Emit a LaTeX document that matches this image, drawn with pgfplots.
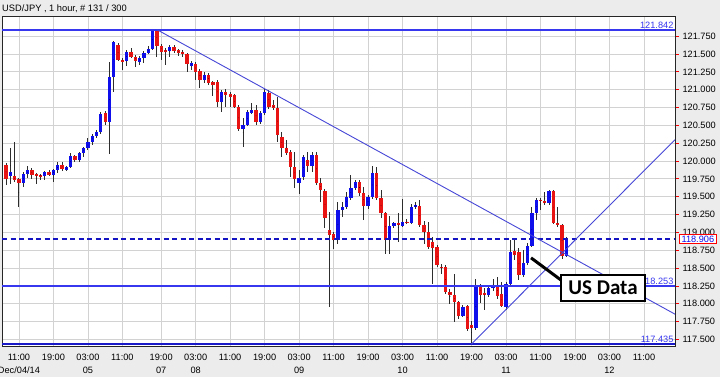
\documentclass[border=0pt]{standalone}
\usepackage{pgfplots}
\usepackage{pgfplotstable}
\pgfplotsset{compat=1.18}
\usepackage{fontspec}
\setmainfont{Liberation Sans}
\newfontfamily\carlito{Carlito}
\definecolor{bgcol}{RGB}{236,236,236}
\definecolor{gridcol}{RGB}{210,210,210}
\definecolor{upcol}{RGB}{15,15,235}
\definecolor{dncol}{RGB}{232,20,20}
\definecolor{wickcol}{RGB}{45,45,45}
\definecolor{hlcol}{RGB}{55,55,240}
\definecolor{lowcol}{RGB}{25,25,200}
\definecolor{dashcol}{RGB}{20,20,195}
\definecolor{trendcol}{RGB}{70,70,215}

\pgfplotstableread{
i o h l c
0 119.95 119.98 119.67 119.75
1 119.79 120.19 119.68 119.85
2 119.79 120.27 119.71 119.73
3 119.75 119.77 119.35 119.69
4 119.69 119.85 119.64 119.82
5 119.82 119.93 119.77 119.87
6 119.87 119.90 119.75 119.81
7 119.81 119.83 119.68 119.80
8 119.81 119.82 119.74 119.78
9 119.79 119.86 119.73 119.85
10 119.85 119.88 119.79 119.80
11 119.81 119.89 119.71 119.87
12 119.87 119.99 119.83 119.95
13 119.95 119.99 119.86 119.89
14 119.88 119.93 119.86 119.92
15 119.92 120.11 119.90 120.07
16 120.07 120.09 119.99 120.01
17 120.01 120.13 119.98 120.11
18 120.11 120.20 120.06 120.18
19 120.18 120.32 120.16 120.27
20 120.27 120.38 120.23 120.35
21 120.35 120.44 120.32 120.41
22 120.41 120.69 120.38 120.66
23 120.68 120.70 120.50 120.55
24 120.55 121.39 120.10 121.18
25 121.18 121.69 120.97 121.67
26 121.63 121.66 121.40 121.41
27 121.42 121.44 121.28 121.39
28 121.40 121.56 121.33 121.53
29 121.53 121.58 121.44 121.46
30 121.46 121.49 121.32 121.41
31 121.39 121.47 121.35 121.45
32 121.45 121.54 121.37 121.52
33 121.52 121.62 121.50 121.57
34 121.57 121.84 121.55 121.83
35 121.84 121.842 121.46 121.62
36 121.62 121.64 121.42 121.53
37 121.56 121.58 121.34 121.53
38 121.54 121.62 121.46 121.60
39 121.60 121.63 121.52 121.54
40 121.55 121.57 121.48 121.52
41 121.53 121.56 121.46 121.50
42 121.50 121.52 121.25 121.36
43 121.33 121.40 121.28 121.37
44 121.36 121.39 121.14 121.25
45 121.26 121.29 121.03 121.14
46 121.14 121.25 121.10 121.21
47 121.21 121.23 121.07 121.10
48 121.11 121.12 120.91 121.07
49 121.11 121.13 120.76 120.83
50 120.83 121.00 120.69 120.97
51 120.97 121.01 120.76 120.92
52 120.94 120.97 120.76 120.90
53 120.92 120.94 120.74 120.76
54 120.76 120.79 120.42 120.45
55 120.45 120.61 120.20 120.51
56 120.51 120.72 120.49 120.69
57 120.68 120.82 120.66 120.72
58 120.72 120.78 120.50 120.55
59 120.55 120.70 120.52 120.68
60 120.68 121.01 120.65 120.97
61 120.96 121.00 120.73 120.76
62 120.79 120.85 120.71 120.74
63 120.75 120.90 120.27 120.37
64 120.34 120.41 120.06 120.18
65 120.19 120.30 120.08 120.12
66 120.13 120.16 119.78 119.92
67 119.92 120.12 119.62 119.75
68 119.70 119.88 119.54 119.77
69 119.77 120.08 119.74 120.05
70 120.02 120.13 119.85 119.93
71 119.93 120.13 119.85 120.09
72 120.09 120.13 119.66 119.69
73 119.69 119.76 119.43 119.60
74 119.58 119.61 119.06 119.20
75 119.04 119.29 117.96 118.97
76 118.98 119.00 118.77 118.90
77 118.90 119.42 118.84 119.32
78 119.32 119.42 119.22 119.36
79 119.36 119.57 119.33 119.50
80 119.49 119.81 119.46 119.63
81 119.63 119.73 119.59 119.71
82 119.71 119.74 119.51 119.55
83 119.55 119.63 119.17 119.37
84 119.37 119.52 119.33 119.50
85 119.50 119.93 119.47 119.83
86 119.83 119.92 119.45 119.48
87 119.48 119.59 119.20 119.27
88 119.27 119.29 118.70 118.90
89 118.90 119.23 118.70 119.09
90 119.09 119.15 119.06 119.13
91 119.13 119.27 118.87 119.10
92 119.09 119.47 119.08 119.15
93 119.15 119.19 119.12 119.13
94 119.13 119.40 119.12 119.36
95 119.36 119.42 119.33 119.38
96 119.37 119.45 119.08 119.10
97 119.10 119.16 118.84 119.00
98 119.00 119.15 118.77 118.80
99 118.86 118.93 118.28 118.78
100 118.79 118.82 118.52 118.54
101 118.52 118.56 118.42 118.50
102 118.52 118.54 118.13 118.16
103 118.16 118.21 118.00 118.12
104 118.12 118.42 117.74 118.02
105 118.02 118.04 117.78 117.83
106 117.83 117.99 117.81 117.96
107 117.97 117.99 117.62 117.65
108 117.70 117.76 117.435 117.66
109 117.66 118.35 117.63 118.26
110 118.25 118.27 118.01 118.12
111 118.15 118.22 117.91 118.12
112 118.12 118.25 118.10 118.22
113 118.22 118.35 118.18 118.26
114 118.26 118.38 118.07 118.11
115 118.14 118.30 117.96 117.97
116 117.95 118.31 117.92 118.28
117 118.28 118.89 118.26 118.72
118 118.74 118.89 118.62 118.68
119 118.72 118.78 118.33 118.40
120 118.40 118.75 118.37 118.57
121 118.57 118.85 118.55 118.81
122 118.81 119.36 118.80 119.27
123 119.27 119.48 119.18 119.46
124 119.46 119.48 119.31 119.44
125 119.44 119.56 119.39 119.41
126 119.41 119.60 119.39 119.58
127 119.58 119.60 119.12 119.13
128 119.13 119.36 119.07 119.11
129 119.10 119.12 118.63 118.67
130 118.67 118.93 118.66 118.906
}\candles

\begin{document}
\begin{tikzpicture}
\useasboundingbox (0,0) rectangle (720bp,377bp);
\clip (0,0) rectangle (720bp,377bp);
\fill[bgcol] (0,0) rectangle (720bp,377bp);
\node[anchor=west, inner sep=0pt, font=\fontsize{9.3bp}{11bp}\selectfont] at (2bp,368bp) {USD/JPY , 1 hour, \# 131 / 300};
\begin{axis}[
  at={(2bp,30.3bp)}, anchor=south west,
  scale only axis, width=673bp, height=330bp,
  xmin=-0.93, xmax=155.2, ymin=117.398, ymax=122.023,
  clip mode=individual,
  axis background/.style={fill=white},
  axis line style={draw=black!85, line width=0.9bp},
  xtick={3,11,19,27,36,44,52,60,68,76,84,92,100,108,116,124,132,140,148},
  xticklabels={11:00,19:00,03:00,11:00,19:00,03:00,11:00,19:00,03:00,11:00,19:00,03:00,11:00,19:00,03:00,11:00,19:00,03:00,11:00},
  extra x ticks={3,19,36,44,68,92,116,140},
  extra x tick labels={Dec/04/14,05,07,08,09,10,11,12},
  extra x tick style={grid=none, xticklabel style={yshift=-12.5bp}},
  x tick style={draw=none},
  ytick={117.5,117.75,118,118.25,118.5,118.75,119,119.25,119.5,119.75,120,120.25,120.5,120.75,121,121.25,121.5,121.75},
  ytick pos=right, yticklabel pos=right,
  y tick style={draw=red, line width=0.8bp},
  tick align=outside, major tick length=4bp,
  xmajorgrids=true, ymajorgrids=true,
  grid style={draw=gridcol, line width=0.8bp},
  ticklabel style={font=\fontsize{9.2bp}{11bp}\selectfont},
  /pgf/number format/assume math mode=true,
  yticklabel style={/pgf/number format/.cd, fixed, fixed zerofill, precision=3, 1000 sep={}},
]
% wicks
\addplot[only marks, mark=*, mark size=0.01pt, mark options={draw=none, fill=none}, forget plot,
  error bars/.cd, y dir=both, y explicit, error mark=none,
  error bar style={draw=wickcol, line width=1bp}]
  table[x=i, y expr={(\thisrow{h}+\thisrow{l})/2}, y error expr={(\thisrow{h}-\thisrow{l})/2}] {\candles};
% up bodies
\addplot[only marks, mark=*, mark size=0.01pt, mark options={draw=none, fill=none}, forget plot,
  restrict expr to domain={\thisrow{c}-\thisrow{o}}{0:10},
  error bars/.cd, y dir=both, y explicit, error mark=none,
  error bar style={draw=upcol, line width=3.3bp}]
  table[x=i, y expr={(\thisrow{o}+\thisrow{c})/2}, y error expr={max(abs(\thisrow{c}-\thisrow{o})/2,0.008)}] {\candles};
% down bodies
\addplot[only marks, mark=*, mark size=0.01pt, mark options={draw=none, fill=none}, forget plot,
  restrict expr to domain={\thisrow{o}-\thisrow{c}}{0.00001:10},
  error bars/.cd, y dir=both, y explicit, error mark=none,
  error bar style={draw=dncol, line width=3.3bp}]
  table[x=i, y expr={(\thisrow{o}+\thisrow{c})/2}, y error expr={max(abs(\thisrow{c}-\thisrow{o})/2,0.008)}] {\candles};
% horizontal levels
\addplot[draw=hlcol, no markers, line width=1.8bp] coordinates {(-0.93,121.842) (155.2,121.842)};
\addplot[draw=hlcol, no markers, line width=1.8bp] coordinates {(-0.93,118.253) (155.2,118.253)};
\addplot[draw=lowcol, no markers, line width=1.8bp] coordinates {(-0.93,117.435) (155.2,117.435)};
\addplot[draw=dashcol, no markers, line width=1.7bp, dash pattern=on 5bp off 3.5bp] coordinates {(-0.93,118.906) (155.2,118.906)};
% trendlines
\addplot[draw=trendcol, no markers, line width=0.9bp] coordinates {(35,121.842) (155.2,117.854)};
\addplot[draw=trendcol, no markers, line width=0.9bp] coordinates {(108,117.435) (155.2,120.30)};
% labels
\node[anchor=south east, inner sep=1bp, text=hlcol, font=\fontsize{9.2bp}{11bp}\selectfont] at (axis cs:155.1,121.842) {121.842};
\node[anchor=south east, inner sep=1bp, text=hlcol, font=\fontsize{9.2bp}{11bp}\selectfont] at (axis cs:155.1,118.253) {118.253};
\node[anchor=south east, inner sep=1bp, text=hlcol, font=\fontsize{9.2bp}{11bp}\selectfont] at (axis cs:155.1,117.435) {117.435};
\node[draw=red, fill=white, line width=0.8bp, text=upcol, inner xsep=2.5bp, inner ysep=1.5bp, font=\fontsize{9.2bp}{11bp}\selectfont] at (axis cs:160.5,118.906) {118.906};
\draw[black, line width=3bp] (axis cs:121.8,118.643) -- (axis cs:129.0,118.321);
\node[draw=black, line width=2.6bp, fill=white, minimum width=84bp, minimum height=26bp, inner sep=0pt, font=\carlito\bfseries\fontsize{21bp}{24bp}\selectfont] at (axis cs:138.5,118.223) {US Data};
\end{axis}
\end{tikzpicture}
\end{document}
